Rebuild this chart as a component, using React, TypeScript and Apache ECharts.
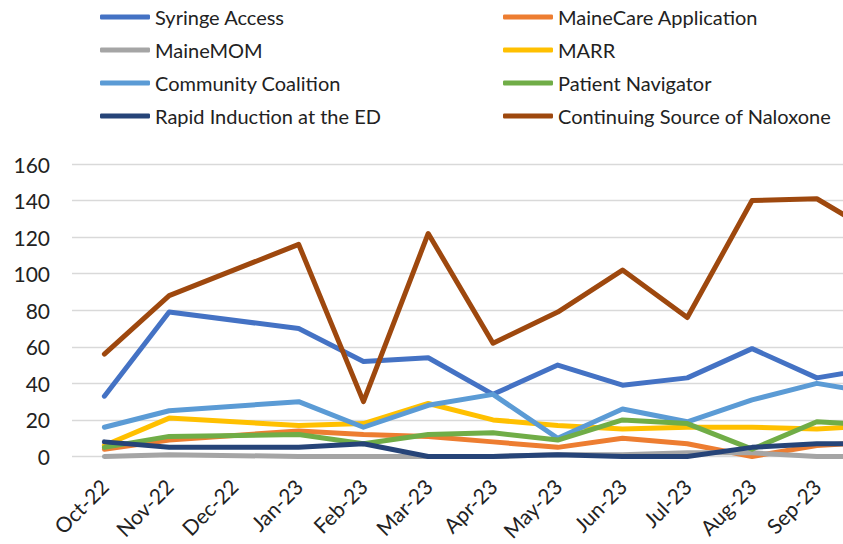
import React, { useEffect, useRef } from "react";
import * as echarts from "echarts";

const categories = ["Oct-22", "Nov-22", "Dec-22", "Jan-23", "Feb-23", "Mar-23", "Apr-23", "May-23", "Jun-23", "Jul-23", "Aug-23", "Sep-23", "Oct-23"];

const syringeAccess = [33, 79, null, 70, 52, 54, 34, 50, 39, 43, 59, 43, 49];
const maineCare = [4, 9, null, 14, 12, 11, 8, 5, 10, 7, 0, 6, 8];
const maineMOM = [0, 1, null, 0, 0, 0, 0, 1, 1, 2, 2, 0, 0];
const marr = [6, 21, null, 17, 18, 29, 20, 17, 15, 16, 16, 15, 17];
const communityCoalition = [16, 25, null, 30, 16, 28, 34, 10, 26, 19, 31, 40, 34];
const patientNavigator = [5, 11, null, 12, 7, 12, 13, 9, 20, 18, 4, 19, 17];
const rapidInduction = [8, 5, null, 5, 7, 0, 0, 1, 0, 0, 5, 7, 7];
const naloxone = [56, 88, null, 116, 30, 122, 62, 79, 102, 76, 140, 141, 120];

const seriesDefs = [
  { name: "Syringe Access", data: syringeAccess, color: "#4472C4" },
  { name: "MaineCare Application", data: maineCare, color: "#ED7D31" },
  { name: "MaineMOM", data: maineMOM, color: "#A5A5A5" },
  { name: "MARR", data: marr, color: "#FFC000" },
  { name: "Community Coalition", data: communityCoalition, color: "#5B9BD5" },
  { name: "Patient Navigator", data: patientNavigator, color: "#70AD47" },
  { name: "Rapid Induction at the ED", data: rapidInduction, color: "#264478" },
  { name: "Continuing Source of Naloxone", data: naloxone, color: "#9E480E" },
];

const leftLegend = ["Syringe Access", "MaineMOM", "Community Coalition", "Rapid Induction at the ED"];
const rightLegend = ["MaineCare Application", "MARR", "Patient Navigator", "Continuing Source of Naloxone"];

export default function App() {
  const ref = useRef<HTMLDivElement>(null);
  useEffect(() => {
    if (!ref.current) return;
    const chart = echarts.init(ref.current, undefined, { renderer: "svg" });
    const font = "Lato, 'Open Sans', sans-serif";
    const legendBase = {
      orient: "vertical" as const,
      top: 6,
      padding: 0,
      itemWidth: 50,
      itemHeight: 5,
      itemGap: 11,
      icon: "roundRect",
      textStyle: { fontFamily: font, fontSize: 20, color: "#222", lineHeight: 22 },
      selectedMode: false,
    };
    chart.setOption({
      animation: false,
      backgroundColor: "#fff",
      legend: [
        { ...legendBase, left: 100, data: leftLegend },
        { ...legendBase, left: 503, data: rightLegend },
      ],
      grid: { left: 72, right: 0, top: 164, bottom: 87.5, containLabel: false },
      xAxis: {
        type: "category",
        data: categories,
        boundaryGap: true,
        axisLine: { show: false },
        axisTick: { show: false },
        axisLabel: {
          rotate: 45,
          margin: 26,
          fontFamily: font,
          fontSize: 21,
          color: "#222",
          interval: (i: number) => i < 12,
        },
      },
      yAxis: {
        type: "value",
        min: 0,
        max: 160,
        interval: 20,
        axisLine: { show: false },
        axisTick: { show: false },
        splitLine: { lineStyle: { color: "#D9D9D9", width: 1.3 } },
        axisLabel: { margin: 22, fontFamily: font, fontSize: 21, color: "#222" },
      },
      series: seriesDefs.map((s) => ({
        name: s.name,
        type: "line",
        data: s.data,
        connectNulls: true,
        symbol: "none",
        color: s.color,
        lineStyle: { color: s.color, width: 5, cap: "round", join: "round" },
      })),
    });
    return () => chart.dispose();
  }, []);
  return (
    <div style={{ position: "absolute", left: 0, top: 0, width: 843, height: 544, overflow: "hidden", background: "#fff" }}>
      <div ref={ref} style={{ width: 914, height: 544 }} />
    </div>
  );
}
